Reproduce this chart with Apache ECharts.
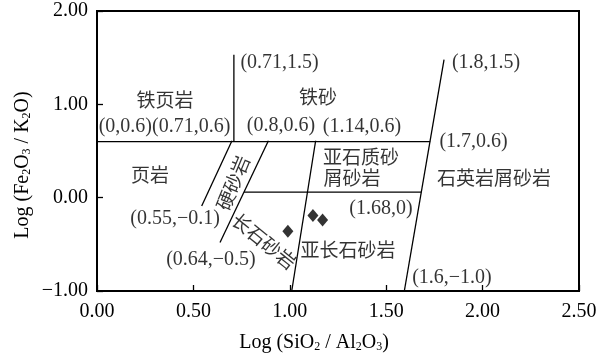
<!DOCTYPE html>
<html><head><meta charset="utf-8">
<script src="https://cdn.jsdelivr.net/npm/echarts@6/dist/echarts.min.js"></script>
<style>html,body{margin:0;padding:0;background:#fff}#c{width:601px;height:361px}</style>
</head><body><div id="c"></div>
<script>
// x-axis ticks
var xTicks = [0, 0.5, 1.0, 1.5, 2.0, 2.5];
var yTicks = [-1, 0, 1, 2];
// samples: Log(SiO2/Al2O3), Log(Fe2O3/K2O)
var sampleX = [0.99, 1.12, 1.17];
var sampleY = [-0.36, -0.19, -0.24];
// classification boundaries (data space)
var lineFe06 = [[0, 0.6], [1.728, 0.6]];
var lineV071 = [[0.71, 0.6], [0.71, 1.53]];
var lineGrey1 = [[0.70, 0.61], [0.543, -0.09]];
var lineGrey2 = [[0.889, 0.61], [0.638, -0.48]];
var lineSub = [[1.134, 0.61], [1.01, -1.0]];
var lineQ = [[1.8, 1.48], [1.594, -1.0]];
var lineZero = [[0.763, 0.06], [1.682, 0.06]];
// annotation texts
var labelTexts = ['铁页岩', '(0,0.6)(0.71,0.6)', '(0.71,1.5)', '铁砂', '(0.8,0.6)', '(1.14,0.6)', '(1.8,1.5)', '(1.7,0.6)',
  '页岩', '硬砂岩', '亚石质砂', '屑砂岩', '石英岩屑砂岩', '(0.55,\u22120.1)', '长石砂岩', '(1.68,0)', '亚长石砂岩', '(0.64,\u22120.5)', '(1.6,\u22121.0)'];
var labelAnchorX = [0.353, 0.35, 0.947, 1.146, 0.954, 1.374, 2.018, 1.953, 0.275, 0.705, 1.369, 1.323, 2.059, 0.405, 0.866, 1.473, 1.302, 0.591, 1.841];
var labelAnchorY = [1.047, 0.758, 1.444, 1.08, 0.77, 0.757, 1.444, 0.597, 0.243, 0.158, 0.436, 0.211, 0.209, -0.228, -0.466, -0.12, -0.56, -0.667, -0.86];
var labelRotate = [0, 0, 0, 0, 0, 0, 0, 0, 0, 67.7, 0, 0, 0, 0, -39, 0, 0, 0, 0];

var SERIF = '"Liberation Serif","Times New Roman",serif';
var CJK = '"Noto Sans CJK SC","Liberation Serif",serif';
var FS = 20;

function fmt(v) { var s = Math.abs(v).toFixed(2); return v < 0 ? '\u2212' + s : s; }
function boundary(d) {
  return { type: 'line', data: d, symbol: 'none', silent: true, animation: false,
    lineStyle: { color: '#000', width: 1.3 }, z: 3 };
}
var annData = labelTexts.map(function (t, i) {
  var isCJK = /[\u4e00-\u9fff]/.test(t);
  return { name: t, value: [labelAnchorX[i], labelAnchorY[i]],
    label: { rotate: labelRotate[i], fontFamily: isCJK ? CJK : SERIF, fontSize: isCJK ? 19 : FS } };
});
var richStyles = {
  n: { fontFamily: SERIF, fontSize: FS, color: '#000', verticalAlign: 'bottom', lineHeight: 22 },
  s: { fontFamily: SERIF, fontSize: 12, color: '#000', verticalAlign: 'bottom', lineHeight: 11 }
};
var chart = echarts.init(document.getElementById('c'), null, { renderer: 'canvas' });
chart.setOption({
  animation: false,
  backgroundColor: '#fff',
  grid: { left: 97, top: 11, right: 22, bottom: 70, show: true, borderColor: '#000', borderWidth: 2, backgroundColor: 'transparent' },
  xAxis: { type: 'value', min: xTicks[0], max: xTicks[xTicks.length - 1], interval: 0.5,
    axisLine: { onZero: false, lineStyle: { color: '#000', width: 2 } },
    axisTick: { inside: true, length: 6, lineStyle: { color: '#000', width: 1.3 } },
    axisLabel: { formatter: fmt, color: '#000', fontFamily: SERIF, fontSize: FS, margin: 11 },
    splitLine: { show: false } },
  yAxis: { type: 'value', min: yTicks[0], max: yTicks[yTicks.length - 1], interval: 1,
    axisLine: { onZero: false, lineStyle: { color: '#000', width: 2 } },
    axisTick: { inside: true, length: 6, lineStyle: { color: '#000', width: 1.3 } },
    axisLabel: { formatter: fmt, color: '#000', fontFamily: SERIF, fontSize: FS, margin: 9 },
    splitLine: { show: false } },
  graphic: [
    { type: 'text', position: [314, 342],
      style: { text: '{n|Log (SiO}{s|2}{n| / Al}{s|2}{n|O}{s|3}{n|)}', rich: richStyles, align: 'center', verticalAlign: 'middle' } },
    { type: 'text', position: [22, 165], rotation: Math.PI / 2,
      style: { text: '{n|Log (Fe}{s|2}{n|O}{s|3}{n| / K}{s|2}{n|O)}', rich: richStyles, align: 'center', verticalAlign: 'middle' } }
  ],
  series: [
    boundary(lineFe06), boundary(lineV071), boundary(lineGrey1), boundary(lineGrey2),
    boundary(lineSub), boundary(lineQ), boundary(lineZero),
    { type: 'scatter', data: sampleX.map(function (x, i) { return [x, sampleY[i]]; }),
      symbol: 'diamond', symbolSize: [11, 13], itemStyle: { color: '#000' }, z: 5 },
    { type: 'scatter', data: annData, symbolSize: 0, silent: true, z: 4,
      label: { show: true, position: 'inside', formatter: '{b}', color: '#000', fontSize: FS, align: 'center', verticalAlign: 'middle' } }
  ]
});
</script></body></html>
